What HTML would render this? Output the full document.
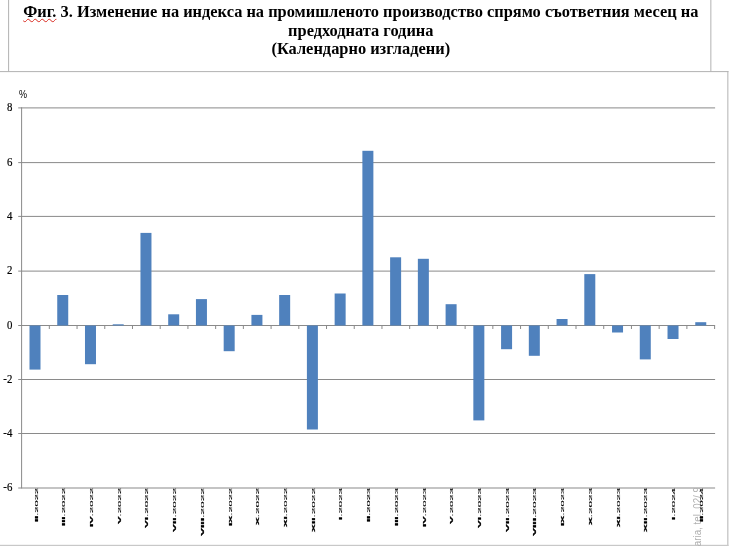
<!DOCTYPE html>
<html lang="bg"><head><meta charset="utf-8"><title>Фиг. 3</title>
<style>
html,body{margin:0;padding:0;background:#fff;}
body{width:740px;height:546px;position:relative;overflow:hidden;font-family:"Liberation Serif",serif;}
.title{position:absolute;left:9.8px;width:702px;top:2.6px;text-align:center;font-weight:bold;font-size:16.4px;line-height:18.9px;color:#000;white-space:nowrap;}
.y{position:absolute;left:-0.5px;width:12.3px;text-align:right;font-size:12px;line-height:12px;color:#000;transform-origin:100% 50%;transform:scale(0.9,1.07);-webkit-text-stroke:0.2px #000;}
.x{position:absolute;top:488px;font-family:"Liberation Sans",sans-serif;font-size:11px;line-height:8px;color:#000;-webkit-text-stroke:0.3px #000;white-space:nowrap;transform-origin:0 0;}
.x b{-webkit-text-stroke:0.6px #000;}
.sq{text-decoration:underline wavy #d82a20 1.3px;text-underline-offset:1px;}
</style></head><body>

<div class="title"><span class="sq">Фиг.</span> 3. Изменение на индекса на промишленото производство спрямо съответния месец на<br>предходната година<br>(Календарно изгладени)</div>
<div class="y" style="top:101.2px">8</div>
<div class="y" style="top:155.9px">6</div>
<div class="y" style="top:209.7px">4</div>
<div class="y" style="top:264.4px">2</div>
<div class="y" style="top:318.8px">0</div>
<div class="y" style="top:372.8px">-2</div>
<div class="y" style="top:426.8px">-4</div>
<div class="y" style="top:481.3px">-6</div>
<svg width="740" height="546" viewBox="0 0 740 546" style="position:absolute;left:0;top:0"><rect x="18.2" y="107.40" width="696.9" height="1" fill="#8a8a8a"/><rect x="18.2" y="162.10" width="696.9" height="1" fill="#8a8a8a"/><rect x="18.2" y="215.90" width="696.9" height="1" fill="#8a8a8a"/><rect x="18.2" y="270.60" width="696.9" height="1" fill="#8a8a8a"/><rect x="18.2" y="325.00" width="696.9" height="1" fill="#8a8a8a"/><rect x="18.2" y="379.00" width="696.9" height="1" fill="#8a8a8a"/><rect x="18.2" y="433.00" width="696.9" height="1" fill="#8a8a8a"/><rect x="18.2" y="487.50" width="696.9" height="1" fill="#8a8a8a"/><rect x="21.1" y="107.3" width="1" height="381.1" fill="#8a8a8a"/><rect x="48.82" y="325.5" width="1" height="3.5" fill="#8a8a8a"/><rect x="76.54" y="325.5" width="1" height="3.5" fill="#8a8a8a"/><rect x="104.26" y="325.5" width="1" height="3.5" fill="#8a8a8a"/><rect x="131.98" y="325.5" width="1" height="3.5" fill="#8a8a8a"/><rect x="159.70" y="325.5" width="1" height="3.5" fill="#8a8a8a"/><rect x="187.42" y="325.5" width="1" height="3.5" fill="#8a8a8a"/><rect x="215.14" y="325.5" width="1" height="3.5" fill="#8a8a8a"/><rect x="242.86" y="325.5" width="1" height="3.5" fill="#8a8a8a"/><rect x="270.58" y="325.5" width="1" height="3.5" fill="#8a8a8a"/><rect x="298.30" y="325.5" width="1" height="3.5" fill="#8a8a8a"/><rect x="326.02" y="325.5" width="1" height="3.5" fill="#8a8a8a"/><rect x="353.74" y="325.5" width="1" height="3.5" fill="#8a8a8a"/><rect x="381.46" y="325.5" width="1" height="3.5" fill="#8a8a8a"/><rect x="409.18" y="325.5" width="1" height="3.5" fill="#8a8a8a"/><rect x="436.90" y="325.5" width="1" height="3.5" fill="#8a8a8a"/><rect x="464.62" y="325.5" width="1" height="3.5" fill="#8a8a8a"/><rect x="492.34" y="325.5" width="1" height="3.5" fill="#8a8a8a"/><rect x="520.06" y="325.5" width="1" height="3.5" fill="#8a8a8a"/><rect x="547.78" y="325.5" width="1" height="3.5" fill="#8a8a8a"/><rect x="575.50" y="325.5" width="1" height="3.5" fill="#8a8a8a"/><rect x="603.22" y="325.5" width="1" height="3.5" fill="#8a8a8a"/><rect x="630.94" y="325.5" width="1" height="3.5" fill="#8a8a8a"/><rect x="658.66" y="325.5" width="1" height="3.5" fill="#8a8a8a"/><rect x="686.38" y="325.5" width="1" height="3.5" fill="#8a8a8a"/><rect x="714.10" y="325.5" width="1" height="3.5" fill="#8a8a8a"/><rect x="29.50" y="325.50" width="11" height="44.10" fill="#4f81bd"/><rect x="57.24" y="295.00" width="11" height="30.50" fill="#4f81bd"/><rect x="84.98" y="325.50" width="11" height="38.70" fill="#4f81bd"/><rect x="112.72" y="324.30" width="11" height="1.20" fill="#4f81bd"/><rect x="140.46" y="232.90" width="11" height="92.60" fill="#4f81bd"/><rect x="168.20" y="314.30" width="11" height="11.20" fill="#4f81bd"/><rect x="195.94" y="299.10" width="11" height="26.40" fill="#4f81bd"/><rect x="223.68" y="325.50" width="11" height="25.70" fill="#4f81bd"/><rect x="251.42" y="314.90" width="11" height="10.60" fill="#4f81bd"/><rect x="279.16" y="295.00" width="11" height="30.50" fill="#4f81bd"/><rect x="306.90" y="325.50" width="11" height="104.00" fill="#4f81bd"/><rect x="334.64" y="293.50" width="11" height="32.00" fill="#4f81bd"/><rect x="362.38" y="150.80" width="11" height="174.70" fill="#4f81bd"/><rect x="390.12" y="257.30" width="11" height="68.20" fill="#4f81bd"/><rect x="417.86" y="258.80" width="11" height="66.70" fill="#4f81bd"/><rect x="445.60" y="304.20" width="11" height="21.30" fill="#4f81bd"/><rect x="473.34" y="325.50" width="11" height="94.90" fill="#4f81bd"/><rect x="501.08" y="325.50" width="11" height="23.70" fill="#4f81bd"/><rect x="528.82" y="325.50" width="11" height="30.30" fill="#4f81bd"/><rect x="556.56" y="319.00" width="11" height="6.50" fill="#4f81bd"/><rect x="584.30" y="274.10" width="11" height="51.40" fill="#4f81bd"/><rect x="612.04" y="325.50" width="11" height="7.00" fill="#4f81bd"/><rect x="639.78" y="325.50" width="11" height="33.90" fill="#4f81bd"/><rect x="667.52" y="325.50" width="11" height="13.50" fill="#4f81bd"/><rect x="695.26" y="322.20" width="11" height="3.30" fill="#4f81bd"/><rect x="8.1" y="0" width="1" height="71.6" fill="#b2b2b2"/><rect x="710.35" y="0" width="1" height="71.6" fill="#b2b2b2"/><rect x="0" y="71.1" width="728.5" height="1" fill="#b2b2b2"/><rect x="727.35" y="71.1" width="1" height="475" fill="#b2b2b2"/><rect x="0" y="544.8" width="728.5" height="1.2" fill="#c8c8c8"/></svg>
<div style="position:absolute;left:19px;top:89.3px;font-family:'Liberation Sans',sans-serif;font-size:10.5px;line-height:11px;color:#000;transform-origin:0 0;transform:scaleX(0.86)">%</div>
<div style="position:absolute;left:689.2px;top:488px;width:16px;height:58px;overflow:hidden"><div id="wm" style="position:absolute;left:2px;top:0;font-family:'Liberation Sans',sans-serif;font-size:11.5px;line-height:12px;color:#b0b0b0;white-space:nowrap;transform-origin:0 0;transform:translate(0,77.80px) rotate(-90deg) scale(0.85,1)">Bulgaria, tel. 02/ 9</div></div>
<div class="x" style="left:35.5px;transform:translate(0,34px) rotate(-90deg) scale(1.0102,0.30)"><b>II</b>.2022</div>
<div class="x" style="left:63.2px;transform:translate(0,38px) rotate(-90deg) scale(1.0353,0.30)"><b>III</b>.2022</div>
<div class="x" style="left:90.9px;transform:translate(0,39px) rotate(-90deg) scale(1.0280,0.30)"><b>IV</b>.2022</div>
<div class="x" style="left:118.6px;transform:translate(0,36px) rotate(-90deg) scale(1.0323,0.30)"><b>V</b>.2022</div>
<div class="x" style="left:146.3px;transform:translate(0,40px) rotate(-90deg) scale(1.0544,0.30)"><b>VI</b>.2022</div>
<div class="x" style="left:174.1px;transform:translate(0,44px) rotate(-90deg) scale(1.0736,0.30)"><b>VII</b>.2022</div>
<div class="x" style="left:201.8px;transform:translate(0,48px) rotate(-90deg) scale(1.0897,0.30)"><b>VIII</b>.2022</div>
<div class="x" style="left:229.5px;transform:translate(0,38px) rotate(-90deg) scale(1.0016,0.30)"><b>IX</b>.2022</div>
<div class="x" style="left:257.2px;transform:translate(0,37px) rotate(-90deg) scale(1.0609,0.30)"><b>X</b>.2022</div>
<div class="x" style="left:284.9px;transform:translate(0,39px) rotate(-90deg) scale(1.0280,0.30)"><b>XI</b>.2022</div>
<div class="x" style="left:312.7px;transform:translate(0,44px) rotate(-90deg) scale(1.0736,0.30)"><b>XII</b>.2022</div>
<div class="x" style="left:340.4px;transform:translate(0,32px) rotate(-90deg) scale(1.0460,0.30)"><b>I</b>.2023</div>
<div class="x" style="left:368.1px;transform:translate(0,34px) rotate(-90deg) scale(1.0102,0.30)"><b>II</b>.2023</div>
<div class="x" style="left:395.8px;transform:translate(0,38px) rotate(-90deg) scale(1.0353,0.30)"><b>III</b>.2023</div>
<div class="x" style="left:423.5px;transform:translate(0,39px) rotate(-90deg) scale(1.0280,0.30)"><b>IV</b>.2023</div>
<div class="x" style="left:451.3px;transform:translate(0,36px) rotate(-90deg) scale(1.0323,0.30)"><b>V</b>.2023</div>
<div class="x" style="left:479.0px;transform:translate(0,40px) rotate(-90deg) scale(1.0544,0.30)"><b>VI</b>.2023</div>
<div class="x" style="left:506.7px;transform:translate(0,44px) rotate(-90deg) scale(1.0736,0.30)"><b>VII</b>.2023</div>
<div class="x" style="left:534.4px;transform:translate(0,48px) rotate(-90deg) scale(1.0897,0.30)"><b>VIII</b>.2023</div>
<div class="x" style="left:562.1px;transform:translate(0,38px) rotate(-90deg) scale(1.0016,0.30)"><b>IX</b>.2023</div>
<div class="x" style="left:589.9px;transform:translate(0,37px) rotate(-90deg) scale(1.0609,0.30)"><b>X</b>.2023</div>
<div class="x" style="left:617.6px;transform:translate(0,39px) rotate(-90deg) scale(1.0280,0.30)"><b>XI</b>.2023</div>
<div class="x" style="left:645.3px;transform:translate(0,44px) rotate(-90deg) scale(1.0736,0.30)"><b>XII</b>.2023</div>
<div class="x" style="left:673.0px;transform:translate(0,32px) rotate(-90deg) scale(1.0460,0.30)"><b>I</b>.2024</div>
<div class="x" style="left:700.7px;transform:translate(0,34px) rotate(-90deg) scale(1.0102,0.30)"><b>II</b>.2024</div>
</body></html>
